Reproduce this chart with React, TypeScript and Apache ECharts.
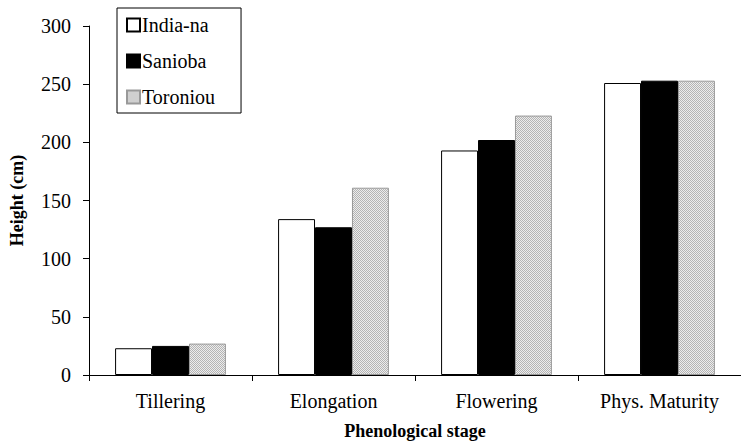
import React, { useEffect, useRef } from "react";
import * as echarts from "echarts";

const categories = ["Tillering", "Elongation", "Flowering", "Phys. Maturity"];
const indiaNa = [23, 134, 193, 251];
const sanioba = [25, 127, 202, 253];
const toroniou = [27, 161, 223, 253];
const yTicks = { min: 0, max: 300, interval: 50 };

function makePattern(): HTMLCanvasElement {
  const c = document.createElement("canvas");
  c.width = 2;
  c.height = 2;
  const ctx = c.getContext("2d")!;
  ctx.fillStyle = "#ececec";
  ctx.fillRect(0, 0, 2, 2);
  ctx.fillStyle = "#b4b4b4";
  ctx.fillRect(0, 0, 1, 1);
  ctx.fillRect(1, 1, 1, 1);
  return c;
}

export default function App() {
  const ref = useRef<HTMLDivElement>(null);
  useEffect(() => {
    if (!ref.current) return;
    const chart = echarts.init(ref.current, null, { renderer: "svg" });
    const font = "'Liberation Serif', 'Times New Roman', serif";
    const pattern = makePattern();
    chart.setOption({
      animation: false,
      grid: { left: 89, right: -10, top: 26, bottom: 68 },
      legend: {
        orient: "vertical",
        left: 117,
        top: 8,
        padding: [7, 26, 6, 9],
        icon: "rect",
        itemWidth: 13,
        itemHeight: 13,
        itemGap: 16,
        borderColor: "#000",
        borderWidth: 1,
        textStyle: { fontFamily: font, fontSize: 20, color: "#000", padding: [0, 0, 0, -3] },
        data: ["India-na", "Sanioba", "Toroniou"],
      },
      xAxis: {
        type: "category",
        data: categories,
        name: "Phenological stage",
        nameLocation: "middle",
        nameGap: 47,
        nameTextStyle: { fontFamily: font, fontSize: 18, fontWeight: "bold", color: "#000" },
        axisLine: { lineStyle: { color: "#000", width: 1 } },
        axisTick: { show: true, length: 6, lineStyle: { color: "#000" } },
        axisLabel: { fontFamily: font, fontSize: 20, color: "#000", margin: 16 },
      },
      yAxis: {
        type: "value",
        min: yTicks.min,
        max: yTicks.max,
        interval: yTicks.interval,
        name: "Height (cm)",
        nameLocation: "middle",
        nameGap: 63,
        nameTextStyle: { fontFamily: font, fontSize: 18, fontWeight: "bold", color: "#000" },
        splitLine: { show: false },
        axisLine: { show: true, lineStyle: { color: "#000", width: 1 } },
        axisTick: { show: true, length: 6, lineStyle: { color: "#000" } },
        axisLabel: { fontFamily: font, fontSize: 20, color: "#000", margin: 18 },
      },
      series: [
        {
          name: "India-na",
          type: "bar",
          data: indiaNa,
          barGap: "0%",
          barCategoryGap: "32%",
          itemStyle: { color: "#fff", borderColor: "#000", borderWidth: 1 },
        },
        {
          name: "Sanioba",
          type: "bar",
          data: sanioba,
          barGap: "0%",
          barCategoryGap: "32%",
          itemStyle: { color: "#000", borderColor: "#000", borderWidth: 1 },
        },
        {
          name: "Toroniou",
          type: "bar",
          data: toroniou,
          barGap: "0%",
          barCategoryGap: "32%",
          itemStyle: {
            color: { image: pattern, repeat: "repeat" },
            borderColor: "#999",
            borderWidth: 1,
          },
        },
      ],
    });
    return () => chart.dispose();
  }, []);
  return (
    <div
      ref={ref}
      style={{ position: "fixed", left: 0, top: 0, width: 741, height: 445, background: "#fff" }}
    />
  );
}
